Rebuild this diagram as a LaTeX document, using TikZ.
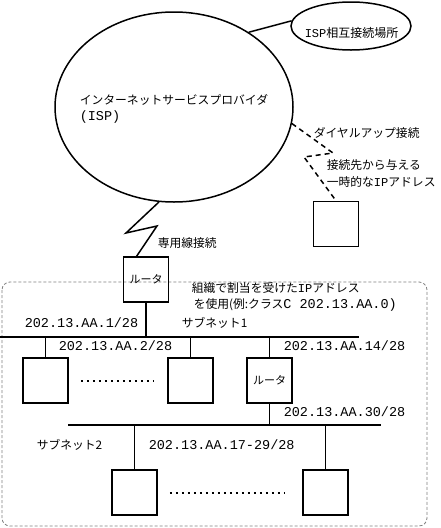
\documentclass[tikz,border=0pt]{standalone}
\usepackage{fontspec}
\setmainfont{Liberation Mono}
\newfontfamily\jp{Noto Sans CJK JP}
\usetikzlibrary{shapes.geometric,positioning,calc}

\begin{document}
\begin{tikzpicture}[x=1pt, y=-1pt, line width=1.5pt,
  host/.style={draw, rectangle, minimum width=45pt, minimum height=45pt, inner sep=0pt},
  router/.style={host, font=\jp\fontsize{11}{13}\selectfont},
  lbl/.style={anchor=west, inner sep=0pt, font=\fontsize{13.5}{15}\selectfont},
  jlbl/.style={anchor=west, inner sep=0pt, font=\jp\fontsize{11.8}{14}\selectfont},
  dots/.style={line width=2pt, dash pattern=on 2pt off 4pt}]

\useasboundingbox (0,0) rectangle (440,528);

% Organisation boundary
\draw[gray, line width=0.8pt, dash pattern=on 3pt off 2pt, rounded corners=8pt] (2,282) rectangle (427,526);

% ISP and exchange point
\node[draw, ellipse, minimum width=238pt, minimum height=190pt] (isp) at (174,107) {};
\node[draw, ellipse, minimum width=120pt, minimum height=48pt] (ix) at (351,26) {};
\draw (isp.45) -- (ix.175);

\node[jlbl] (isptext) at (79,100) {インターネットサービスプロバイダ};
\node[lbl] (ispabbr) at (79,117) {(ISP)};
\node[anchor=west, inner sep=0pt, font=\fontsize{12}{14}\selectfont] (ixtext) at (304,33) {ISP{\jp 相互接続場所}};

% Dial-up host
\node[host] (pc) at (336,224) {};
\draw[dash pattern=on 5pt off 4pt] (isp.-8) -- (333,153) -- (304,157) -- (pc.north);
\node[jlbl] (dialup) at (313,133) {ダイヤルアップ接続};
\node[jlbl] (tmp1) at (326,165) {接続先から与える};
\node[jlbl] (tmp2) at (326,182) {一時的な{\rmfamily\fontsize{12}{14}\selectfont IP}アドレス};

% Leased line to router
\node[router] (rt1) at (146,279.5) {ルータ};
\draw (isp.-99) -- (126,233) -- (157,226) -- (rt1.112);
\node[jlbl] (leased) at (157,243) {専用線接続};

\node[jlbl] (org1) at (191,288) {組織で割当を受けた{\rmfamily\fontsize{12}{14}\selectfont IP}アドレス};
\node[jlbl] (org2) at (193,305) {を使用(例:クラス{\rmfamily\fontsize{13.5}{15}\selectfont C 202.13.AA.0)}};

% Subnet 1
\coordinate (b1w) at (0,337);
\coordinate (b1e) at (359,337);
\draw (b1w) -- (b1e);
\draw (rt1.south) -- (rt1.south |- b1w);

\node[host] (h1) at (45.5,380.5) {};
\node[host] (h2) at (190.5,380.5) {};
\node[router] (rt2) at (269.5,380.5) {ルータ};
\foreach \n in {h1,h2,rt2}
    \draw (\n.north) -- (\n.north |- b1w);
\draw[dots] ($(h1.east)+(12,0)$) -- ($(h2.west)+(-13,0)$);

\node[lbl] (a1) at (24,323) {202.13.AA.1/28};
\node[jlbl] (sub1) at (181,323) {サブネット1};
\node[lbl] (a2) at (58,346) {202.13.AA.2/28};
\node[lbl] (a14) at (283,346) {202.13.AA.14/28};

% Subnet 2
\coordinate (b2w) at (68,425);
\coordinate (b2e) at (381,425);
\draw (b2w) -- (b2e);
\draw (rt2.south) -- (rt2.south |- b2w);

\node[host] (h3) at (134.5,492.5) {};
\node[host] (h4) at (325.5,492.5) {};
\foreach \n in {h3,h4}
    \draw (\n.north) -- (\n.north |- b2w);
\draw[dots] ($(h3.east)+(12,0)$) -- ($(h4.west)+(-18,0)$);

\node[lbl] (a30) at (283,412) {202.13.AA.30/28};
\node[jlbl] (sub2) at (36,445) {サブネット2};
\node[lbl] (a17) at (148,445) {202.13.AA.17-29/28};

\end{tikzpicture}
\end{document}
